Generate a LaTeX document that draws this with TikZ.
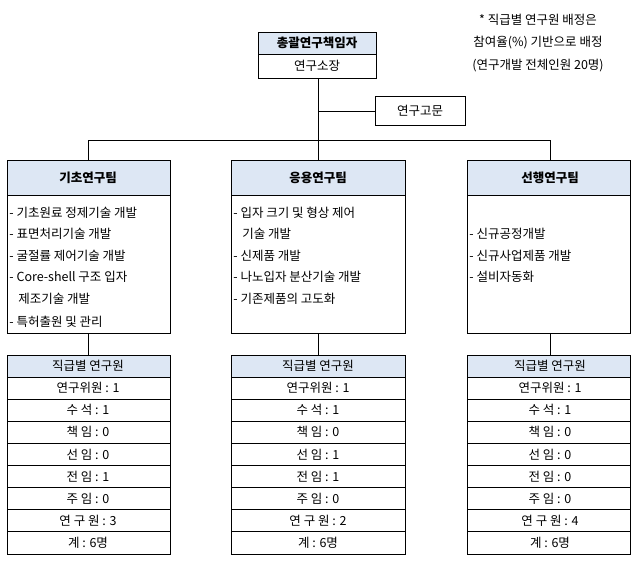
\documentclass[tikz,border=0pt]{standalone}
\usepackage{fontspec}
\setmainfont{Noto Sans CJK KR}
\definecolor{hdr}{RGB}{221,231,244}
\begin{document}
\begin{tikzpicture}[x=1pt,y=-1pt,line width=0.8pt,
  txt/.style={font=\fontsize{12.5}{14}\selectfont,inner sep=0pt},
  bld/.style={font=\fontsize{12.5}{14}\selectfont\bfseries,inner sep=0pt},
  lft/.style={txt,anchor=west}]
\useasboundingbox (0,0) rectangle (637,565);
% top
\fill[hdr] (258,32) rectangle (376,54);
\draw (258,32) rectangle (376,78); \draw (258,54)--(376,54);
\node[bld] (top) at (317,43) {총괄연구책임자};
\node[txt] (topsub) at (317,66) {연구소장};
\node[txt] (n1) at (538,20) {* 직급별 연구원 배정은};
\node[txt] (n2) at (538,43) {참여율(\%) 기반으로 배정};
\node[txt] (n3) at (538,66) {(연구개발 전체인원 20명)};
\draw (375,96) rectangle (465,125);
\node[txt] (adv) at (420,111) {연구고문};
\coordinate (jt) at (318,78); \coordinate (ja) at (318,111); \coordinate (jb) at (318,140);
\draw (jt)--(jb); \draw (ja)--(375,111);
\draw (88,160)--(88,140)--(550,140)--(550,160); \draw (jb)--(318,160);
% teams
\foreach \l/\r/\c/\name/\n in {7/170/88/기초연구팀/3, 231/405/318/응용연구팀/2, 467/630/550/선행연구팀/4}{
  \fill[hdr] (\l,160) rectangle (\r,195);
  \draw (\l,160) rectangle (\r,333); \draw (\l,195)--(\r,195);
  \node[bld] at (\c,178) {\name};
  \draw (\c,333)--(\c,355);
  \fill[hdr] (\l,355) rectangle (\r,377);
  \draw (\l,355) rectangle (\r,554);
  \foreach \k in {0,...,7}{\draw (\l,377+\k*22.125)--(\r,377+\k*22.125);}
  \node[txt] at (\c,366) {직급별 연구원};
  \node[txt] at (\c,388) {연구위원 : 1};
  \node[txt] at (\c,410) {수 석 : 1};
  \node[txt] at (\c,432) {책 임 : 0};
  \node[txt] at (\c,521) {연 구 원 : \n};
  \node[txt] at (\c,543) {계 : 6명};
}
\node[txt] at (88,455) {선 임 : 0}; \node[txt] at (318,455) {선 임 : 1}; \node[txt] at (550,455) {선 임 : 0};
\node[txt] at (88,477) {전 임 : 1}; \node[txt] at (318,477) {전 임 : 1}; \node[txt] at (550,477) {전 임 : 0};
\node[txt] at (88,499) {주 임 : 0}; \node[txt] at (318,499) {주 임 : 0}; \node[txt] at (550,499) {주 임 : 0};
% bodies
\node[lft] at (9,213) {- 기초원료 정제기술 개발};
\node[lft] at (9,234) {- 표면처리기술 개발};
\node[lft] at (9,256) {- 굴절률 제어기술 개발};
\node[lft] at (9,277) {- Core-shell 구조 입자};
\node[lft] at (18,299) {제조기술 개발};
\node[lft] at (9,322) {- 특허출원 및 관리};
\node[lft] at (233,213) {- 입자 크기 및 형상 제어};
\node[lft] at (242,234) {기술 개발};
\node[lft] at (233,256) {- 신제품 개발};
\node[lft] at (233,277) {- 나노입자 분산기술 개발};
\node[lft] at (233,299) {- 기존제품의 고도화};
\node[lft] at (469,234) {- 신규공정개발};
\node[lft] at (469,256) {- 신규사업제품 개발};
\node[lft] at (469,277) {- 설비자동화};
\end{tikzpicture}
\end{document}
